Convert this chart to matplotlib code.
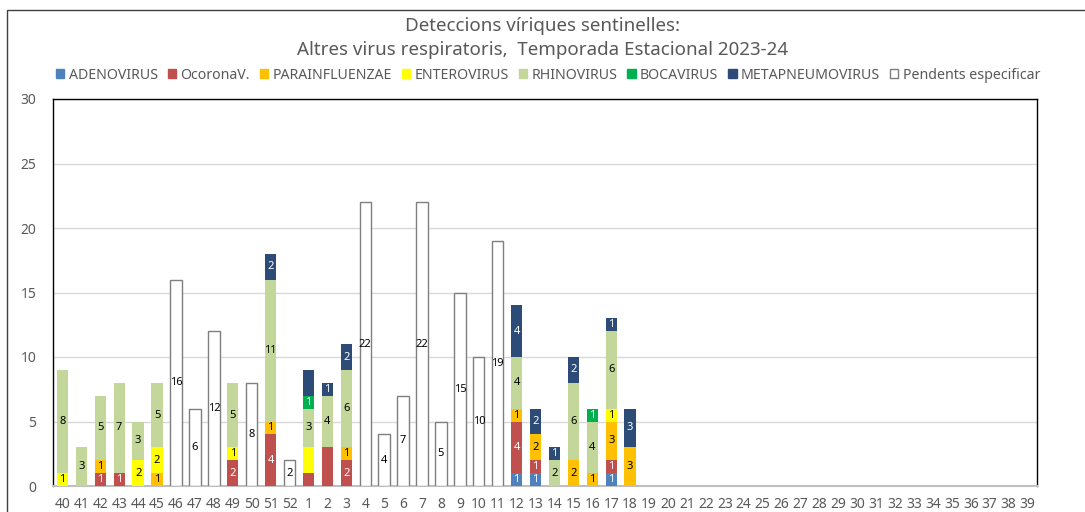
import matplotlib.pyplot as plt
from matplotlib.patches import Patch, Rectangle
import numpy as np

plt.rcParams['font.family'] = ['Noto Sans', 'DejaVu Sans']

weeks = [str(w) for w in list(range(40, 53)) + list(range(1, 40))]

# values for weeks 40..52 and 1..18, the rest of the season is empty
adeno  = [0,0,0,0,0,0,0,0,0,0,0,0,0, 0,0,0,0,0,0,0,0,0,0,0,1,1,0,0,0,1,0]
corona = [0,0,1,1,0,0,0,0,0,2,0,4,0, 1,3,2,0,0,0,0,0,0,0,0,4,1,0,0,0,1,0]
para   = [0,0,1,0,0,1,0,0,0,0,0,1,0, 0,0,1,0,0,0,0,0,0,0,0,1,2,0,2,1,3,3]
entero = [1,0,0,0,2,2,0,0,0,1,0,0,0, 2,0,0,0,0,0,0,0,0,0,0,0,0,0,0,0,1,0]
rhino  = [8,3,5,7,3,5,0,0,0,5,0,11,0, 3,4,6,0,0,0,0,0,0,0,0,4,0,2,6,4,6,0]
boca   = [0,0,0,0,0,0,0,0,0,0,0,0,0, 1,0,0,0,0,0,0,0,0,0,0,0,0,0,0,1,0,0]
meta   = [0,0,0,0,0,0,0,0,0,0,0,2,0, 2,1,2,0,0,0,0,0,0,0,0,4,2,1,2,0,1,3]
pend   = [0,0,0,0,0,0,16,6,12,0,8,0,2, 0,0,0,22,4,7,22,5,15,10,19,0,0,0,0,0,0,0]

names = ['ADENOVIRUS', 'OcoronaV.', 'PARAINFLUENZAE', 'ENTEROVIRUS',
         'RHINOVIRUS', 'BOCAVIRUS', 'METAPNEUMOVIRUS', 'Pendents especificar']
series = [adeno, corona, para, entero, rhino, boca, meta, pend]
colors = ['#4F81BD', '#C0504D', '#FFC000', '#FFFF00',
          '#C4D79B', '#00B050', '#2C4C77', '#FFFFFF']
label_colors = ['white', 'white', 'black', 'black', 'black', 'white', 'white', 'black']
# labels that are not shown in the original (series index, week)
hidden = {(1, '1'), (3, '1'), (6, '1'), (1, '2')}

n = len(weeks)
x = np.arange(n)

fig = plt.figure(figsize=(10.85, 5.12), dpi=100)
ax = fig.add_axes([53/1085, 26/512, 984/1085, 387/512])

bottom = np.zeros(n)
for i, (name, vals, c) in enumerate(zip(names, series, colors)):
    v = np.array(vals + [0] * (n - len(vals)), dtype=float)
    m = v > 0
    if name == 'Pendents especificar':
        ax.bar(x[m], v[m], 0.6, bottom=bottom[m], color=c, edgecolor='#7F7F7F', linewidth=1.0, zorder=3)
    else:
        ax.bar(x[m], v[m], 0.6, bottom=bottom[m], color=c, zorder=3)
    for xi in range(n):
        if v[xi] > 0 and (i, weeks[xi]) not in hidden:
            ax.text(xi, bottom[xi] + v[xi] / 2, str(int(v[xi])), ha='center', va='center',
                    fontsize=8, color=label_colors[i], zorder=4)
    bottom += v

ax.set_xlim(-0.5, n - 0.5)
ax.set_ylim(0, 30)
ax.set_yticks(range(0, 31, 5))
ax.set_xticks(x)
ax.set_xticklabels(weeks)
ax.tick_params(axis='both', length=0, colors='#595959', labelsize=10)
ax.tick_params(axis='x', pad=8)
ax.tick_params(axis='y', pad=12)
ax.grid(axis='y', color='#D9D9D9', linewidth=1, zorder=0)
for s in ['left', 'top', 'right']:
    ax.spines[s].set_color('black')
    ax.spines[s].set_linewidth(1.0)
ax.spines['bottom'].set_color('#BFBFBF')
ax.spines['bottom'].set_linewidth(1.5)

fig.text(0.5, 0.949, 'Deteccions víriques sentinelles:', ha='center', va='center',
         fontsize=13.5, color='#595959')
fig.text(0.5, 0.903, 'Altres virus respiratoris,  Temporada Estacional 2023-24', ha='center',
         va='center', fontsize=13.5, color='#595959')

handles = [Patch(facecolor=c, edgecolor='#7F7F7F' if c == '#FFFFFF' else c) for c in colors]
fig.legend(handles, names, loc='center', bbox_to_anchor=(0.505, 0.853), ncol=8, frameon=False,
           fontsize=10.2, handlelength=0.6, handleheight=0.6, handletextpad=0.3,
           columnspacing=0.7, labelcolor='#595959')

fig.patches.append(Rectangle((7/1085, -0.1), 1.2, (502/512) + 0.1, transform=fig.transFigure,
                             fill=False, edgecolor='#404040', linewidth=1.0))

fig.savefig('out.png', dpi=100)
